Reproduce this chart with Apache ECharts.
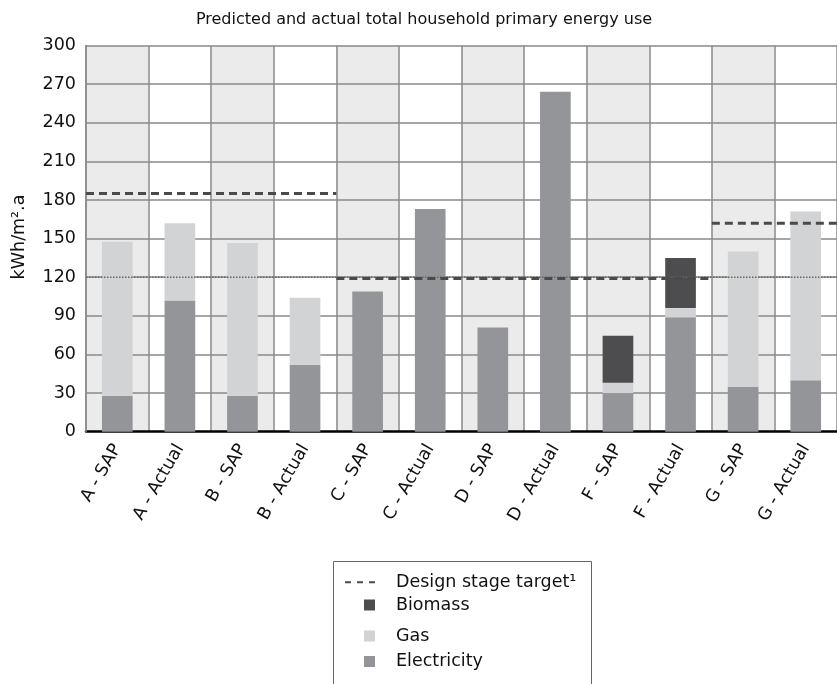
<!DOCTYPE html>
<html>
<head>
<meta charset="utf-8">
<script src="https://cdn.jsdelivr.net/npm/echarts@6/dist/echarts.min.js"></script>
<style>
html,body{margin:0;padding:0;background:#fff;}
#chart{width:837px;height:684px;}
</style>
</head>
<body>
<div id="chart"></div>
<script>
// ---- data ----
const categories = ['A - SAP','A - Actual','B - SAP','B - Actual','C - SAP','C - Actual','D - SAP','D - Actual','F - SAP','F - Actual','G - SAP','G - Actual'];
const electricity = [28, 102, 28, 52, 109, 173, 81, 264, 30, 89, 35, 40];
const gas         = [119.5, 60, 118.5, 52, 0, 0, 0, 0, 8, 7, 105, 131];
const biomass     = [0, 0, 0, 0, 0, 0, 0, 0, 36.5, 39, 0, 0];
// design stage target segments (category index span) and values
const targetStart = [0, 4, 10];
const targetEnd   = [4, 10, 12];
const targetValue = [185, 119, 162];
const referenceValue = 120;
const yTicks = [0, 300, 30]; // min, max, interval

const FONT = 'DejaVu Sans';
const C_ELEC = '#939598', C_GAS = '#d1d3d4', C_BIO = '#4d4d4f', C_DASH = '#4a4a4a';

const chart = echarts.init(document.getElementById('chart'), null, {renderer: 'canvas'});

const targetSeries = targetValue.map((v, i) => ({
  name: 'Design stage target',
  type: 'line',
  xAxisIndex: 1,
  yAxisIndex: 0,
  data: [[targetStart[i], v], [targetEnd[i], v]],
  symbol: 'none',
  silent: true,
  z: 5,
  itemStyle: {color: C_DASH},
  lineStyle: {color: C_DASH, width: 3, type: [8, 5]}
}));

const legendText = {fontFamily: FONT, fontSize: 17.5, color: '#111', lineHeight: 20, padding: [0, 0, 0, 16]};

const option = {
  animation: false,
  textStyle: {fontFamily: FONT},
  title: {
    text: 'Predicted and actual total household primary energy use',
    left: 424, top: 12, padding: 0, textAlign: 'center',
    textStyle: {fontFamily: FONT, fontSize: 16, fontWeight: 'normal', color: '#111'}
  },
  grid: {left: 86, right: -5, top: 45.5, bottom: 252.3, containLabel: false},
  xAxis: [{
    type: 'category',
    data: categories,
    boundaryGap: true,
    z: 0,
    axisLine: {show: true, lineStyle: {color: '#000', width: 2.5}},
    axisTick: {show: false},
    axisLabel: {rotate: 60, fontFamily: FONT, fontSize: 17.5, color: '#111', margin: 14, interval: 0},
    splitLine: {show: true, lineStyle: {color: '#8a8a8a', width: 1.5}},
    splitArea: {show: true, areaStyle: {color: ['#ebebeb', '#ffffff']}}
  }, {
    type: 'value', min: 0, max: categories.length, show: false
  }],
  yAxis: {
    type: 'value', min: yTicks[0], max: yTicks[1], interval: yTicks[2],
    z: 1,
    axisLine: {show: true, lineStyle: {color: '#8a8a8a', width: 1.5}},
    axisTick: {show: false},
    axisLabel: {fontFamily: FONT, fontSize: 17.5, color: '#111', margin: 10},
    splitLine: {show: true, showMinLine: false, lineStyle: {color: '#8a8a8a', width: 1.5}}
  },
  legend: [
    {data: [{name: 'Design stage target', icon: 'path://M0,0h6v2h-6z M12,0h6v2h-6z M24,0h6v2h-6z', itemStyle: {color: C_DASH, borderWidth: 0}, lineStyle: {width: 0}}],
     left: 345, top: 572.3, padding: 0, itemWidth: 30, itemHeight: 2.5, selectedMode: false,
     formatter: n => n + '¹', textStyle: legendText},
    {data: [{name: 'Biomass', icon: 'rect'}], left: 364, top: 595, padding: 0, itemWidth: 11, itemHeight: 11, selectedMode: false, textStyle: legendText},
    {data: [{name: 'Gas', icon: 'rect'}], left: 364, top: 626, padding: 0, itemWidth: 11, itemHeight: 11, selectedMode: false, textStyle: legendText},
    {data: [{name: 'Electricity', icon: 'rect'}], left: 364, top: 651.5, padding: 0, itemWidth: 11, itemHeight: 11, selectedMode: false, textStyle: legendText}
  ],
  graphic: [
    {type: 'rect', shape: {x: 333.5, y: 561.5, width: 258, height: 160}, style: {fill: 'none', stroke: '#666', lineWidth: 1}, silent: true},
    {type: 'text', x: 19, y: 237, rotation: Math.PI / 2,
     style: {text: 'kWh/m².a', font: '17.5px "DejaVu Sans"', fill: '#111', align: 'center', verticalAlign: 'middle'}}
  ],
  series: [
    {name: 'Electricity', type: 'bar', stack: 'total', data: electricity, barWidth: '49%', itemStyle: {color: C_ELEC}, z: 4},
    {name: 'Gas', type: 'bar', stack: 'total', data: gas, barWidth: '49%', itemStyle: {color: C_GAS}, z: 4},
    {name: 'Biomass', type: 'bar', stack: 'total', data: biomass, barWidth: '49%', itemStyle: {color: C_BIO}, z: 4},
    {name: 'reference', type: 'line', xAxisIndex: 1, yAxisIndex: 0, symbol: 'none', silent: true, z: 4,
     data: [[0, referenceValue], [categories.length, referenceValue]],
     itemStyle: {color: '#666'}, lineStyle: {color: '#666', width: 1.5, type: [1.5, 1.5]}},
    ...targetSeries
  ]
};
chart.setOption(option);
</script>
</body>
</html>
